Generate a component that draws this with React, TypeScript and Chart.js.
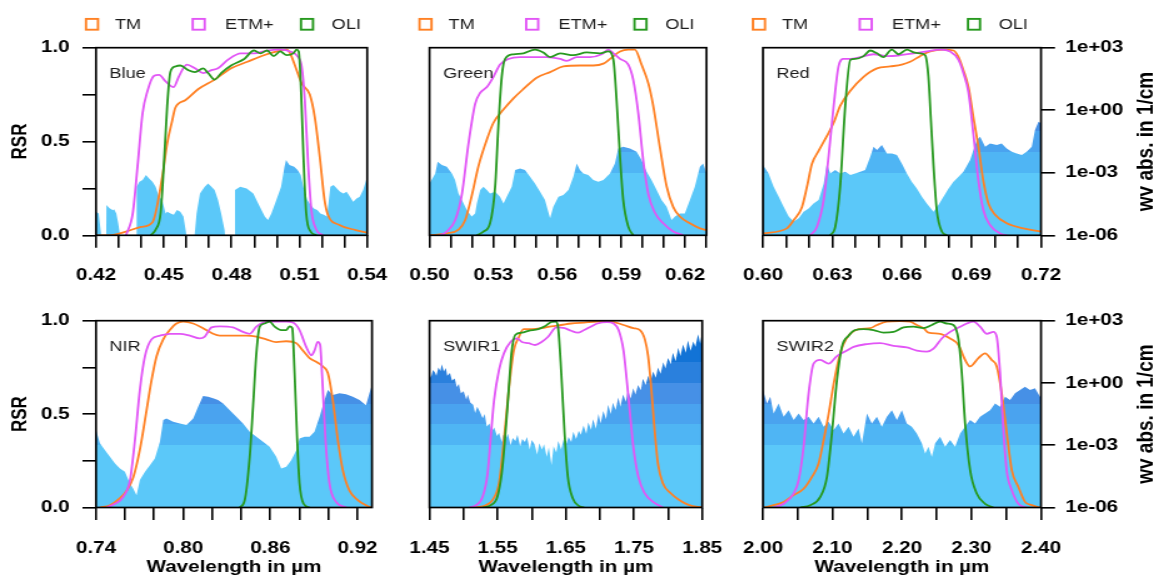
import React, { useEffect, useRef } from 'react';
import { Chart, registerables } from 'chart.js';

Chart.register(...registerables);

type P = [number, number];

// ---------------- Series labels / colours ----------------
const SERIES_LABELS = ['TM', 'ETM+', 'OLI'];
const SERIES_COLORS = ['#FF8124', '#E256F6', '#27991F'];
const X_TITLE = 'Wavelength in µm';
const Y_TITLE = 'RSR';
const Y2_TITLE = 'wv abs. in 1/cm';

// RSR axis ticks
const RSR_TICKS = [0, 0.25, 0.5, 0.75, 1];
const RSR_LABELS = ['0.0', '', '0.5', '', '1.0'];
// water-vapour axis (log10 of absorption, 1/cm)
const WV_TICKS = [-6, -3, 0, 3];
const WV_LABELS = ['1e-06', '1e-03', '1e+00', '1e+03'];
// decade bands of the absorption fill
const BAND_EDGES = [-3, -2, -1, 0, 1];
const BAND_COLORS = ['#5BC8F9', '#4FB5F4', '#4AA3EF', '#4690E6', '#2A80DD', '#1273D6'];

// ---------------- Blue ----------------
const BLUE_XTICKS = [0.42, 0.43, 0.44, 0.45, 0.46, 0.47, 0.48, 0.49, 0.5, 0.51, 0.52, 0.53, 0.54];
const BLUE_XLABELS = ['0.42', '', '', '0.45', '', '', '0.48', '', '', '0.51', '', '', '0.54'];
const BLUE_TM: P[] = [[0.42, 0], [0.426, 0], [0.4333, 0.02], [0.44, 0.045], [0.445, 0.07], [0.4493, 0.31], [0.4515, 0.49], [0.4537, 0.61], [0.4551, 0.68], [0.4595, 0.72], [0.4653, 0.78], [0.4725, 0.83], [0.4798, 0.89], [0.487, 0.925], [0.4943, 0.96], [0.5001, 0.98], [0.5044, 0.99], [0.5059, 0.97], [0.5088, 0.88], [0.511, 0.81], [0.5146, 0.75], [0.5168, 0.63], [0.519, 0.42], [0.5211, 0.19], [0.5226, 0.11], [0.5277, 0.055], [0.5349, 0.028], [0.54, 0.014]];
const BLUE_ETM: P[] = [[0.4333, 0], [0.4363, 0.12], [0.4384, 0.37], [0.4406, 0.65], [0.4428, 0.77], [0.4457, 0.85], [0.4479, 0.855], [0.4508, 0.82], [0.4544, 0.79], [0.4566, 0.845], [0.4602, 0.91], [0.4638, 0.89], [0.4674, 0.865], [0.4711, 0.88], [0.474, 0.89], [0.4783, 0.935], [0.4841, 0.97], [0.4899, 0.97], [0.4957, 0.985], [0.5015, 0.99], [0.5059, 0.98], [0.5095, 0.95], [0.511, 0.9], [0.5124, 0.72], [0.5139, 0.37], [0.5153, 0.135], [0.5175, 0.03], [0.5204, 0]];
const BLUE_OLI: P[] = [[0.4442, 0], [0.4464, 0.03], [0.4486, 0.12], [0.45, 0.37], [0.4515, 0.69], [0.4529, 0.87], [0.4551, 0.9], [0.4573, 0.905], [0.4609, 0.88], [0.4638, 0.87], [0.4674, 0.89], [0.4696, 0.865], [0.4725, 0.83], [0.4754, 0.865], [0.4798, 0.905], [0.4856, 0.94], [0.4899, 0.985], [0.4928, 0.97], [0.4957, 0.985], [0.4986, 0.955], [0.5015, 0.98], [0.5044, 0.96], [0.5073, 0.97], [0.5088, 0.99], [0.5097, 0.98], [0.5108, 0.75], [0.5118, 0.42], [0.513, 0.12], [0.515, 0.02], [0.5175, 0]];
const BLUE_WV: P[] = [[0.42, -4.87], [0.4212, -4.95], [0.4222, -5.9], [0.4224, -6.5], [0.4245, -6.5], [0.4246, -4.55], [0.426, -4.7], [0.4275, -4.8], [0.428, -4.75], [0.429, -4.95], [0.4298, -5.4], [0.4305, -5.9], [0.4308, -6.5], [0.4379, -6.5], [0.438, -3.67], [0.4392, -3.43], [0.4406, -3.35], [0.4421, -3.11], [0.4435, -3.27], [0.445, -3.43], [0.4464, -3.67], [0.4479, -4.15], [0.4493, -4.31], [0.4508, -4.95], [0.4515, -4.87], [0.453, -4.95], [0.4544, -5.02], [0.4558, -4.79], [0.4573, -4.87], [0.4587, -5.1], [0.4599, -5.9], [0.4602, -6.5], [0.4632, -6.5], [0.4645, -4.95], [0.466, -3.99], [0.4681, -3.67], [0.4696, -3.51], [0.4711, -3.67], [0.4725, -3.83], [0.474, -4.31], [0.4754, -4.95], [0.4769, -5.74], [0.4775, -6.5], [0.4814, -6.5], [0.4815, -3.83], [0.4838, -3.67], [0.4867, -3.75], [0.4896, -3.99], [0.4925, -4.63], [0.4947, -5.1], [0.4961, -5.27], [0.4976, -4.95], [0.4998, -4.31], [0.5019, -3.67], [0.5034, -2.71], [0.5041, -2.39], [0.5056, -2.63], [0.5077, -2.71], [0.5092, -2.87], [0.5106, -3.11], [0.5121, -3.83], [0.5135, -4.31], [0.515, -4.55], [0.5164, -4.71], [0.5179, -4.79], [0.5193, -4.95], [0.5208, -5.02], [0.5222, -5.1], [0.5237, -3.67], [0.5251, -3.59], [0.5266, -3.75], [0.528, -3.91], [0.5295, -3.99], [0.5309, -3.91], [0.5324, -4.15], [0.5338, -4.39], [0.5353, -4.23], [0.5367, -4.15], [0.5382, -3.83], [0.54, -3.19]];

// ---------------- Green ----------------
const GREEN_XTICKS = [0.5, 0.51, 0.52, 0.53, 0.54, 0.55, 0.56, 0.57, 0.58, 0.59, 0.6, 0.61, 0.62, 0.63];
const GREEN_XLABELS = ['0.50', '', '', '0.53', '', '', '0.56', '', '', '0.59', '', '', '0.62', ''];
const GREEN_TM: P[] = [[0.5, 0], [0.5081, 0.01], [0.5136, 0.03], [0.5167, 0.08], [0.5198, 0.21], [0.523, 0.37], [0.5269, 0.51], [0.53, 0.6], [0.5347, 0.67], [0.5394, 0.73], [0.5441, 0.78], [0.5503, 0.84], [0.5566, 0.87], [0.5628, 0.9], [0.5706, 0.905], [0.5769, 0.905], [0.5816, 0.915], [0.5847, 0.94], [0.5894, 0.98], [0.5933, 0.99], [0.5964, 0.99], [0.5995, 0.91], [0.6027, 0.81], [0.605, 0.69], [0.6081, 0.47], [0.6113, 0.26], [0.6144, 0.15], [0.6175, 0.1], [0.6222, 0.064], [0.6269, 0.037], [0.63, 0.028]];
const GREEN_ETM: P[] = [[0.505, 0], [0.5081, 0.02], [0.512, 0.08], [0.5152, 0.22], [0.5183, 0.49], [0.5214, 0.7], [0.5238, 0.76], [0.5269, 0.79], [0.53, 0.845], [0.5331, 0.91], [0.537, 0.94], [0.5425, 0.95], [0.5488, 0.95], [0.555, 0.95], [0.5613, 0.94], [0.5644, 0.93], [0.5691, 0.95], [0.5753, 0.95], [0.5808, 0.965], [0.5839, 0.99], [0.5863, 0.97], [0.5894, 0.94], [0.5933, 0.91], [0.5956, 0.83], [0.598, 0.65], [0.6003, 0.4], [0.6027, 0.22], [0.6058, 0.12], [0.6097, 0.064], [0.6144, 0.02], [0.6191, 0]];
const GREEN_OLI: P[] = [[0.5222, 0], [0.5253, 0.02], [0.5284, 0.064], [0.5308, 0.26], [0.5323, 0.58], [0.5339, 0.845], [0.5355, 0.94], [0.5394, 0.965], [0.5441, 0.97], [0.5495, 0.99], [0.5534, 0.975], [0.5566, 0.95], [0.5613, 0.97], [0.5675, 0.96], [0.5738, 0.975], [0.58, 0.97], [0.5839, 0.98], [0.5863, 0.935], [0.5878, 0.72], [0.5894, 0.42], [0.5909, 0.19], [0.5933, 0.046], [0.5956, 0]];
const GREEN_WV: P[] = [[0.5, -3.51], [0.5027, -3.03], [0.5038, -2.47], [0.5058, -2.63], [0.5081, -2.71], [0.5105, -3.03], [0.512, -3.35], [0.5136, -3.99], [0.5152, -4.31], [0.5175, -4.79], [0.5198, -5.1], [0.5214, -4.95], [0.5222, -4.47], [0.5238, -3.83], [0.5253, -3.67], [0.5269, -3.83], [0.5284, -3.99], [0.5308, -3.91], [0.5331, -4.15], [0.5347, -4.47], [0.537, -3.99], [0.5386, -3.67], [0.5402, -2.87], [0.5425, -2.79], [0.5448, -2.87], [0.5472, -3.19], [0.5495, -3.51], [0.5519, -3.91], [0.5542, -4.31], [0.5566, -5.18], [0.5581, -4.63], [0.5605, -4.15], [0.5628, -4.07], [0.5652, -3.83], [0.5675, -3.19], [0.5691, -2.55], [0.5706, -2.87], [0.5722, -3.03], [0.5745, -3.11], [0.5769, -3.35], [0.5792, -3.43], [0.5816, -3.35], [0.5847, -3.03], [0.587, -2.55], [0.5886, -1.83], [0.5909, -1.75], [0.5941, -1.83], [0.5972, -1.99], [0.5995, -2.39], [0.6019, -2.95], [0.6042, -3.35], [0.6066, -3.83], [0.6089, -4.31], [0.6113, -4.63], [0.6136, -5.26], [0.6152, -5.1], [0.6175, -4.95], [0.6198, -4.95], [0.6222, -4.31], [0.6245, -3.67], [0.6269, -2.71], [0.6284, -2.55], [0.63, -3.03]];

// ---------------- Red ----------------
const RED_XTICKS = [0.6, 0.61, 0.62, 0.63, 0.64, 0.65, 0.66, 0.67, 0.68, 0.69, 0.7, 0.71, 0.72];
const RED_XLABELS = ['0.60', '', '', '0.63', '', '', '0.66', '', '', '0.69', '', '', '0.72'];
const RED_TM: P[] = [[0.6, 0.01], [0.6103, 0.037], [0.6132, 0.08], [0.6168, 0.15], [0.619, 0.26], [0.6211, 0.38], [0.624, 0.45], [0.6276, 0.53], [0.6305, 0.6], [0.6333, 0.69], [0.6377, 0.77], [0.6434, 0.845], [0.6492, 0.89], [0.6549, 0.9], [0.6599, 0.91], [0.6635, 0.925], [0.6678, 0.955], [0.6721, 0.98], [0.6779, 0.99], [0.6822, 0.985], [0.6844, 0.95], [0.6865, 0.88], [0.6887, 0.79], [0.6908, 0.63], [0.693, 0.47], [0.6951, 0.29], [0.6973, 0.17], [0.7002, 0.11], [0.7052, 0.064], [0.7124, 0.037], [0.72, 0.02]];
const RED_ETM: P[] = [[0.6204, 0], [0.6233, 0.046], [0.6262, 0.19], [0.6283, 0.42], [0.6305, 0.69], [0.6326, 0.9], [0.6348, 0.94], [0.6377, 0.94], [0.642, 0.95], [0.6477, 0.965], [0.6535, 0.955], [0.6592, 0.96], [0.665, 0.97], [0.6707, 0.98], [0.6765, 0.99], [0.6808, 0.98], [0.6844, 0.935], [0.6865, 0.865], [0.6887, 0.76], [0.6908, 0.54], [0.693, 0.29], [0.6951, 0.135], [0.698, 0.055], [0.7023, 0.01], [0.7052, 0]];
const RED_OLI: P[] = [[0.629, 0], [0.6312, 0.046], [0.6333, 0.26], [0.6355, 0.69], [0.6377, 0.935], [0.6398, 0.94], [0.6434, 0.955], [0.6463, 0.985], [0.6492, 0.97], [0.652, 0.95], [0.6556, 0.99], [0.6585, 0.965], [0.6621, 0.99], [0.665, 0.975], [0.6678, 0.97], [0.67, 0.96], [0.6714, 0.845], [0.6724, 0.63], [0.6736, 0.37], [0.675, 0.135], [0.6772, 0.02], [0.6793, 0]];
const RED_WV: P[] = [[0.6, -2.63], [0.6024, -3.03], [0.6046, -3.67], [0.6068, -4.15], [0.6089, -4.63], [0.6111, -5.1], [0.6132, -5.34], [0.6154, -5.18], [0.6175, -4.87], [0.6197, -4.71], [0.6218, -4.47], [0.624, -4.31], [0.6262, -3.51], [0.6276, -2.55], [0.629, -3.03], [0.6312, -2.87], [0.6333, -3.03], [0.6355, -2.95], [0.6377, -3.11], [0.6398, -3.03], [0.642, -2.95], [0.6441, -2.87], [0.6463, -2.23], [0.6477, -1.75], [0.6492, -1.91], [0.6513, -1.67], [0.6535, -2.07], [0.6556, -2.07], [0.6578, -2.15], [0.6599, -2.55], [0.6621, -3.03], [0.6642, -3.43], [0.6664, -3.75], [0.6686, -4.15], [0.6707, -4.47], [0.6736, -4.87], [0.6757, -4.55], [0.6779, -4.15], [0.6801, -3.75], [0.6822, -3.43], [0.6844, -3.19], [0.6865, -2.95], [0.6894, -2.39], [0.6923, -1.43], [0.6937, -1.27], [0.6959, -1.75], [0.698, -1.59], [0.7009, -1.67], [0.703, -1.59], [0.7052, -1.83], [0.7074, -1.99], [0.7095, -2.07], [0.7117, -2.15], [0.7138, -1.99], [0.716, -1.75], [0.7174, -0.95], [0.7189, -0.55], [0.72, -0.63]];

// ---------------- NIR ----------------
const NIR_XTICKS = [0.74, 0.76, 0.78, 0.8, 0.82, 0.84, 0.86, 0.88, 0.9, 0.92];
const NIR_XLABELS = ['0.74', '', '', '0.80', '', '', '0.86', '', '', '0.92'];
const NIR_TM: P[] = [[0.7427, 0], [0.7496, 0.0125], [0.7565, 0.05], [0.7611, 0.09], [0.7656, 0.16], [0.7702, 0.31], [0.7748, 0.52], [0.7782, 0.68], [0.7817, 0.81], [0.7863, 0.9], [0.7908, 0.95], [0.7954, 0.985], [0.8, 0.995], [0.8069, 0.985], [0.8137, 0.96], [0.8206, 0.93], [0.8252, 0.92], [0.8343, 0.92], [0.8435, 0.92], [0.8504, 0.915], [0.8572, 0.9], [0.8641, 0.885], [0.871, 0.89], [0.8779, 0.88], [0.8824, 0.84], [0.887, 0.8], [0.8916, 0.78], [0.8962, 0.755], [0.8996, 0.72], [0.903, 0.575], [0.9065, 0.36], [0.9099, 0.2], [0.9145, 0.09], [0.9202, 0.04], [0.9259, 0.0125], [0.9294, 0]];
const NIR_ETM: P[] = [[0.7473, 0], [0.753, 0.02], [0.7588, 0.057], [0.7634, 0.146], [0.7668, 0.36], [0.7702, 0.63], [0.7737, 0.81], [0.7782, 0.9], [0.784, 0.92], [0.7908, 0.93], [0.7977, 0.93], [0.8046, 0.92], [0.8114, 0.905], [0.8149, 0.915], [0.8195, 0.964], [0.8252, 0.97], [0.8343, 0.964], [0.8412, 0.94], [0.8458, 0.93], [0.8504, 0.968], [0.855, 0.99], [0.8618, 0.995], [0.871, 0.995], [0.8756, 0.99], [0.8801, 0.95], [0.8847, 0.86], [0.8882, 0.815], [0.8904, 0.84], [0.8927, 0.887], [0.8943, 0.87], [0.8957, 0.7], [0.898, 0.36], [0.9007, 0.13], [0.9053, 0.03], [0.9122, 0]];
const NIR_OLI: P[] = [[0.8389, 0], [0.8424, 0.04], [0.8458, 0.27], [0.8481, 0.54], [0.8504, 0.825], [0.8527, 0.968], [0.8561, 0.985], [0.8595, 0.995], [0.863, 0.968], [0.8675, 0.95], [0.871, 0.95], [0.8733, 0.97], [0.8751, 0.96], [0.8767, 0.72], [0.8785, 0.36], [0.8801, 0.13], [0.8829, 0.02], [0.887, 0]];
const NIR_WV: P[] = [[0.74, -2.27], [0.7427, -2.91], [0.7462, -3.24], [0.7496, -3.56], [0.7531, -3.88], [0.7565, -4.12], [0.7599, -4.28], [0.7634, -4.84], [0.7656, -5.08], [0.7679, -5.41], [0.7702, -4.68], [0.7737, -4.28], [0.7771, -3.96], [0.7805, -3.64], [0.784, -2.83], [0.7863, -1.79], [0.7885, -1.71], [0.7931, -1.87], [0.7977, -1.95], [0.8023, -2.03], [0.8069, -1.71], [0.8103, -1.15], [0.8137, -0.63], [0.8172, -0.66], [0.8206, -0.74], [0.824, -0.82], [0.8275, -0.99], [0.8321, -1.31], [0.8366, -1.63], [0.8412, -1.95], [0.8458, -2.35], [0.8504, -2.59], [0.855, -2.83], [0.8595, -3.07], [0.8641, -3.56], [0.8675, -4.12], [0.871, -4.04], [0.8744, -3.72], [0.8779, -3.24], [0.8801, -2.67], [0.8836, -2.59], [0.887, -2.59], [0.8904, -2.35], [0.8939, -1.63], [0.8973, -0.82], [0.8996, -0.34], [0.903, -0.58], [0.9076, -0.5], [0.9122, -0.54], [0.9168, -0.66], [0.9214, -0.82], [0.9259, -1.07], [0.9282, -0.5], [0.93, -0.1]];

// ---------------- SWIR1 ----------------
const SWIR1_XTICKS = [1.45, 1.5, 1.55, 1.6, 1.65, 1.7, 1.75, 1.8, 1.85];
const SWIR1_XLABELS = ['1.45', '', '1.55', '', '1.65', '', '1.75', '', '1.85'];
const SWIR1_TM: P[] = [[1.5183, 0], [1.5327, 0.0125], [1.5423, 0.04], [1.5519, 0.13], [1.5591, 0.36], [1.5663, 0.63], [1.5736, 0.84], [1.5808, 0.91], [1.588, 0.955], [1.6, 0.955], [1.6144, 0.96], [1.6288, 0.97], [1.6433, 0.977], [1.6577, 0.985], [1.6769, 0.99], [1.6962, 0.995], [1.7154, 0.995], [1.7346, 0.977], [1.749, 0.96], [1.7587, 0.95], [1.7659, 0.9], [1.7707, 0.81], [1.7755, 0.63], [1.7803, 0.41], [1.7851, 0.235], [1.7923, 0.13], [1.8043, 0.075], [1.8163, 0.04], [1.8308, 0.0125], [1.85, 0]];
const SWIR1_ETM: P[] = [[1.5087, 0], [1.5183, 0.0125], [1.5279, 0.057], [1.5351, 0.18], [1.5399, 0.38], [1.5447, 0.575], [1.5519, 0.735], [1.5591, 0.825], [1.5688, 0.886], [1.5784, 0.905], [1.5856, 0.886], [1.5952, 0.88], [1.6048, 0.87], [1.6144, 0.886], [1.624, 0.914], [1.636, 0.964], [1.6481, 0.96], [1.6577, 0.946], [1.6673, 0.936], [1.6769, 0.95], [1.6865, 0.968], [1.6962, 0.985], [1.7106, 0.993], [1.7202, 0.985], [1.7274, 0.95], [1.7346, 0.84], [1.7394, 0.68], [1.7442, 0.5], [1.749, 0.325], [1.7563, 0.165], [1.7659, 0.075], [1.7779, 0.03], [1.7923, 0]];
const SWIR1_OLI: P[] = [[1.5279, 0], [1.5399, 0.0125], [1.5495, 0.057], [1.5558, 0.18], [1.5606, 0.36], [1.5654, 0.59], [1.5702, 0.825], [1.576, 0.925], [1.5856, 0.936], [1.5952, 0.946], [1.6096, 0.955], [1.6192, 0.97], [1.6288, 0.993], [1.6351, 0.995], [1.6385, 0.968], [1.6433, 0.72], [1.6481, 0.4], [1.6529, 0.165], [1.6601, 0.05], [1.6697, 0.007], [1.6769, 0]];
const SWIR1_WV: P[] = [[1.45, 0.46], [1.452, 0.25], [1.455, 0.62], [1.458, 0.5], [1.46, 0.35], [1.463, 0.75], [1.466, 0.58], [1.468, 0.9], [1.471, 0.55], [1.474, 0.72], [1.476, 0.35], [1.48, 0.48], [1.483, 0.12], [1.487, 0.22], [1.49, -0.2], [1.493, -0.05], [1.496, -0.5], [1.5, -0.4], [1.504, -0.8], [1.506, -0.55], [1.51, -0.95], [1.514, -1.05], [1.517, -1.45], [1.52, -1.15], [1.524, -1.4], [1.528, -1.7], [1.531, -1.5], [1.534, -2.1], [1.538, -1.95], [1.541, -2.35], [1.545, -2.15], [1.549, -2.55], [1.552, -2.4], [1.556, -2.85], [1.558, -2.5], [1.562, -2.7], [1.565, -2.45], [1.569, -3.0], [1.572, -2.65], [1.576, -2.8], [1.579, -2.5], [1.583, -3.05], [1.586, -2.7], [1.59, -2.85], [1.593, -2.6], [1.597, -3.2], [1.6, -2.75], [1.604, -2.95], [1.608, -3.45], [1.611, -2.9], [1.615, -3.2], [1.618, -2.95], [1.622, -3.55], [1.625, -3.1], [1.629, -3.95], [1.632, -3.05], [1.636, -3.35], [1.639, -2.8], [1.643, -3.2], [1.647, -2.7], [1.65, -3.0], [1.654, -2.6], [1.658, -2.85], [1.661, -2.35], [1.665, -2.7], [1.669, -2.3], [1.672, -2.5], [1.676, -2.05], [1.68, -2.45], [1.683, -1.9], [1.687, -2.25], [1.69, -1.75], [1.694, -2.2], [1.698, -1.5], [1.701, -1.95], [1.705, -1.35], [1.709, -1.75], [1.712, -1.05], [1.716, -1.5], [1.719, -0.95], [1.723, -1.3], [1.727, -0.7], [1.73, -1.15], [1.734, -0.55], [1.738, -0.9], [1.741, -0.35], [1.745, -0.75], [1.749, -0.25], [1.752, -0.55], [1.756, -0.1], [1.76, -0.35], [1.763, 0.2], [1.767, -0.1], [1.771, 0.35], [1.774, 0.05], [1.778, 0.55], [1.782, 0.25], [1.785, 0.75], [1.789, 0.45], [1.793, 1.0], [1.796, 0.7], [1.8, 1.2], [1.804, 0.9], [1.807, 1.45], [1.811, 1.05], [1.815, 1.7], [1.818, 1.3], [1.822, 1.85], [1.826, 1.45], [1.829, 2.05], [1.833, 1.55], [1.837, 2.0], [1.84, 1.75], [1.844, 2.35], [1.847, 1.9], [1.849, 2.3], [1.85, 1.4]];

// ---------------- SWIR2 ----------------
const SWIR2_XTICKS = [2.0, 2.05, 2.1, 2.15, 2.2, 2.25, 2.3, 2.35, 2.4];
const SWIR2_XLABELS = ['2.00', '', '2.10', '', '2.20', '', '2.30', '', '2.40'];
const SWIR2_TM: P[] = [[2.001, 0], [2.0153, 0.0125], [2.0297, 0.03], [2.0441, 0.066], [2.0584, 0.1], [2.0704, 0.164], [2.08, 0.236], [2.0872, 0.36], [2.0944, 0.5], [2.1016, 0.66], [2.1087, 0.79], [2.1159, 0.875], [2.1255, 0.93], [2.1375, 0.955], [2.1543, 0.96], [2.1638, 0.977], [2.1782, 0.995], [2.1974, 0.998], [2.2117, 0.995], [2.2213, 0.977], [2.2309, 0.96], [2.2381, 0.936], [2.2548, 0.93], [2.2692, 0.905], [2.2812, 0.87], [2.2908, 0.79], [2.298, 0.755], [2.3099, 0.8], [2.3195, 0.825], [2.3291, 0.79], [2.3363, 0.755], [2.3435, 0.61], [2.3507, 0.4], [2.3579, 0.2], [2.3674, 0.11], [2.377, 0.03], [2.3866, 0.0125], [2.3986, 0]];
const SWIR2_ETM: P[] = [[2.0153, 0], [2.0297, 0.02], [2.0441, 0.075], [2.0513, 0.146], [2.0584, 0.325], [2.0656, 0.61], [2.0728, 0.77], [2.0824, 0.79], [2.0944, 0.77], [2.1063, 0.81], [2.1207, 0.84], [2.1303, 0.86], [2.1495, 0.875], [2.1686, 0.88], [2.1878, 0.865], [2.2069, 0.857], [2.2213, 0.84], [2.2357, 0.834], [2.2453, 0.85], [2.2572, 0.905], [2.2692, 0.94], [2.2836, 0.968], [2.2932, 0.985], [2.3028, 0.995], [2.3123, 0.968], [2.3219, 0.93], [2.3315, 0.94], [2.3363, 0.914], [2.3411, 0.72], [2.3459, 0.41], [2.3507, 0.196], [2.3579, 0.093], [2.3674, 0.02], [2.3794, 0]];
const SWIR2_OLI: P[] = [[2.0537, 0], [2.068, 0.0125], [2.0824, 0.057], [2.092, 0.164], [2.0992, 0.4], [2.1063, 0.68], [2.1135, 0.86], [2.1231, 0.92], [2.1327, 0.95], [2.1447, 0.955], [2.159, 0.95], [2.1734, 0.936], [2.1878, 0.94], [2.2022, 0.964], [2.2165, 0.968], [2.2309, 0.96], [2.2429, 0.977], [2.2548, 0.995], [2.2644, 0.985], [2.274, 0.977], [2.2812, 0.9], [2.286, 0.72], [2.2908, 0.45], [2.298, 0.2], [2.3075, 0.075], [2.3195, 0.02], [2.3315, 0]];
const SWIR2_WV: P[] = [[2.0, -0.34], [2.0057, -0.99], [2.0105, -0.66], [2.0153, -1.47], [2.0225, -0.99], [2.0297, -1.63], [2.0369, -1.31], [2.0441, -1.79], [2.0513, -1.47], [2.0584, -1.79], [2.0656, -1.63], [2.0728, -1.95], [2.08, -1.63], [2.0872, -2.11], [2.0944, -1.87], [2.1016, -2.27], [2.1087, -1.95], [2.1159, -2.43], [2.1231, -2.11], [2.1303, -2.59], [2.1375, -2.19], [2.1423, -2.91], [2.1495, -1.47], [2.1566, -1.95], [2.1638, -1.63], [2.171, -2.11], [2.1782, -1.63], [2.1854, -1.31], [2.1926, -1.79], [2.1998, -1.31], [2.2069, -1.95], [2.2141, -2.11], [2.2213, -2.43], [2.2285, -2.91], [2.2333, -3.4], [2.2381, -3.07], [2.2429, -3.56], [2.2477, -2.91], [2.2548, -2.59], [2.262, -3.07], [2.2692, -2.75], [2.2764, -3.07], [2.2836, -2.43], [2.2908, -2.11], [2.298, -1.79], [2.3051, -1.95], [2.3123, -1.63], [2.3195, -1.47], [2.3267, -1.31], [2.3339, -0.99], [2.3411, -1.15], [2.3483, -0.66], [2.3555, -0.82], [2.3626, -0.5], [2.3698, -0.34], [2.377, -0.18], [2.3842, -0.34], [2.3914, -0.26], [2.3986, -0.66], [2.4, -0.66]];

// ---------------- Layout (page px) ----------------
const FONT = "'Liberation Sans', Arial, Helvetica, sans-serif";
const SX = 1.25; // horizontal stretch of the figure
const COLS = [
  { plotL: 96, plotR: 372, cssL: 0, cssR: 410 },
  { plotL: 429.5, plotR: 706.5, cssL: 380, cssR: 745 },
  { plotL: 763, plotR: 1041, cssL: 713, cssR: 1154 },
];
const ROWS = [
  { plotT: 47.7, plotB: 235.3, cssT: 0, cssB: 290 },
  { plotT: 320.7, plotB: 507.5, cssT: 290, cssB: 583 },
];

type Panel = {
  name: string; row: number; col: number; xMin: number; xMax: number;
  xTicks: number[]; xLabels: string[]; tm: P[]; etm: P[]; oli: P[]; wv: P[];
};

const PANELS: Panel[] = [
  { name: 'Blue', row: 0, col: 0, xMin: 0.42, xMax: 0.54, xTicks: BLUE_XTICKS, xLabels: BLUE_XLABELS, tm: BLUE_TM, etm: BLUE_ETM, oli: BLUE_OLI, wv: BLUE_WV },
  { name: 'Green', row: 0, col: 1, xMin: 0.5, xMax: 0.63, xTicks: GREEN_XTICKS, xLabels: GREEN_XLABELS, tm: GREEN_TM, etm: GREEN_ETM, oli: GREEN_OLI, wv: GREEN_WV },
  { name: 'Red', row: 0, col: 2, xMin: 0.6, xMax: 0.72, xTicks: RED_XTICKS, xLabels: RED_XLABELS, tm: RED_TM, etm: RED_ETM, oli: RED_OLI, wv: RED_WV },
  { name: 'NIR', row: 1, col: 0, xMin: 0.74, xMax: 0.93, xTicks: NIR_XTICKS, xLabels: NIR_XLABELS, tm: NIR_TM, etm: NIR_ETM, oli: NIR_OLI, wv: NIR_WV },
  { name: 'SWIR1', row: 1, col: 1, xMin: 1.45, xMax: 1.85, xTicks: SWIR1_XTICKS, xLabels: SWIR1_XLABELS, tm: SWIR1_TM, etm: SWIR1_ETM, oli: SWIR1_OLI, wv: SWIR1_WV },
  { name: 'SWIR2', row: 1, col: 2, xMin: 2.0, xMax: 2.4, xTicks: SWIR2_XTICKS, xLabels: SWIR2_XLABELS, tm: SWIR2_TM, etm: SWIR2_ETM, oli: SWIR2_OLI, wv: SWIR2_WV },
];

function geom(p: Panel) {
  const col = COLS[p.col];
  const row = ROWS[p.row];
  const cssW = col.cssR - col.cssL;
  const cw = Math.round(cssW / SX);
  const k = cssW / cw;
  const ch = row.cssB - row.cssT;
  return { col, row, cssW, cw, k, ch };
}

function wvFill(context: any) {
  const chart = context.chart;
  const s = chart.scales && chart.scales.y2;
  if (!chart.chartArea || !s) return BAND_COLORS[0];
  const yb = s.getPixelForValue(s.min);
  const yt = s.getPixelForValue(s.max);
  const g = chart.ctx.createLinearGradient(0, yb, 0, yt);
  g.addColorStop(0, BAND_COLORS[0]);
  BAND_EDGES.forEach((e, i) => {
    const f = (e - s.min) / (s.max - s.min);
    g.addColorStop(f, BAND_COLORS[i]);
    g.addColorStop(f, BAND_COLORS[i + 1]);
  });
  g.addColorStop(1, BAND_COLORS[BAND_COLORS.length - 1]);
  return g;
}

const decorPlugin = {
  id: 'decor',
  afterDraw(chart: any, _args: any, o: any) {
    const { ctx, chartArea: a } = chart;
    const cx = (css: number) => (css - o.cssL) / o.k;
    ctx.save();
    // frame
    ctx.strokeStyle = '#000';
    ctx.lineWidth = 1.7;
    ctx.strokeRect(a.left, a.top, a.right - a.left, a.bottom - a.top);
    // band name
    ctx.fillStyle = '#1c1c1c';
    ctx.font = `14.5px ${FONT}`;
    ctx.textAlign = 'left';
    ctx.textBaseline = 'alphabetic';
    ctx.fillText(o.name, cx(o.plotL + 13.5), a.top + 30.5);
    // legend
    if (o.legend) {
      const boxOff = [-11, 95.7, 204];
      const textOff = [19, 129, 235.7];
      const yc = 24.3;
      SERIES_LABELS.forEach((lab, i) => {
        const bx = cx(o.plotL + boxOff[i]);
        const bw = 14 / o.k;
        ctx.strokeStyle = SERIES_COLORS[i];
        ctx.lineWidth = 1.9;
        ctx.strokeRect(bx + 0.8, yc - 5.4, bw - 1.6, 10.8);
        ctx.fillStyle = '#1c1c1c';
        ctx.font = `14.5px ${FONT}`;
        ctx.textAlign = 'left';
        ctx.textBaseline = 'middle';
        ctx.fillText(lab, cx(o.plotL + textOff[i]), yc + 0.5);
      });
    }
    ctx.fillStyle = '#000';
    if (o.xTitle) {
      ctx.font = `bold 16.5px ${FONT}`;
      ctx.textAlign = 'center';
      ctx.textBaseline = 'middle';
      ctx.fillText(X_TITLE, (a.left + a.right) / 2, 567 - o.cssT);
    }
    if (o.yTitle) {
      ctx.save();
      ctx.translate(cx(21), (a.top + a.bottom) / 2);
      ctx.rotate(-Math.PI / 2);
      ctx.font = `bold 17px ${FONT}`;
      ctx.textAlign = 'center';
      ctx.textBaseline = 'middle';
      ctx.fillText(Y_TITLE, 0, 0);
      ctx.restore();
    }
    if (o.y2Title) {
      ctx.save();
      ctx.translate(cx(1146), (a.top + a.bottom) / 2);
      ctx.rotate(-Math.PI / 2);
      ctx.font = `bold 19px ${FONT}`;
      ctx.textAlign = 'center';
      ctx.textBaseline = 'middle';
      ctx.fillText(Y2_TITLE, 0, 0);
      ctx.restore();
    }
    ctx.restore();
  },
};

function lineDs(label: string, data: P[], color: string) {
  return {
    label,
    data: data.map(([x, y]) => ({ x, y })),
    borderColor: color,
    backgroundColor: color,
    borderWidth: 1.8,
    pointRadius: 0,
    fill: false,
    cubicInterpolationMode: 'monotone',
    xAxisID: 'x',
    yAxisID: 'y',
  };
}

function buildConfig(p: Panel): any {
  const { col, row, k } = geom(p);
  const tickFont = { family: FONT, size: 16.5, weight: 'bold' };
  return {
    type: 'line',
    data: {
      datasets: [
        lineDs(SERIES_LABELS[2], p.oli, SERIES_COLORS[2]),
        lineDs(SERIES_LABELS[1], p.etm, SERIES_COLORS[1]),
        lineDs(SERIES_LABELS[0], p.tm, SERIES_COLORS[0]),
        {
          label: 'wv',
          data: p.wv.map(([x, y]) => ({ x, y })),
          borderWidth: 0,
          borderColor: 'rgba(0,0,0,0)',
          backgroundColor: wvFill,
          pointRadius: 0,
          fill: 'start',
          tension: 0,
          xAxisID: 'x',
          yAxisID: 'y2',
        },
      ],
    },
    options: {
      responsive: false,
      animation: false,
      events: [],
      layout: {
        padding: {
          top: row.plotT - row.cssT,
          bottom: 0,
          left: p.col === 0 ? 0 : (col.plotL - col.cssL) / k,
          right: p.col === 2 ? 0 : (col.cssR - col.plotR) / k,
        },
      },
      plugins: {
        legend: { display: false },
        tooltip: { enabled: false },
        decor: {
          name: p.name, cssL: col.cssL, cssT: row.cssT, k, plotL: col.plotL,
          legend: p.row === 0, xTitle: p.row === 1, yTitle: p.col === 0, y2Title: p.col === 2,
        },
      },
      scales: {
        x: {
          type: 'linear',
          min: p.xMin,
          max: p.xMax,
          afterBuildTicks: (s: any) => { s.ticks = p.xTicks.map((v) => ({ value: v })); },
          afterFit: (s: any) => { s.height = row.cssB - row.plotB; },
          ticks: {
            autoSkip: false, maxRotation: 0, minRotation: 0, padding: 18.2, color: '#000', font: tickFont,
            callback: (_v: number, i: number) => p.xLabels[i],
          },
          grid: { drawOnChartArea: false, drawTicks: true, tickLength: 12.5, color: '#000', lineWidth: 1.6 },
          border: { display: false },
        },
        y: {
          type: 'linear',
          position: 'left',
          min: 0,
          max: 1,
          display: p.col === 0,
          afterBuildTicks: (s: any) => { s.ticks = RSR_TICKS.map((v) => ({ value: v })); },
          afterFit: (s: any) => { if (p.col === 0) s.width = (col.plotL - col.cssL) / k; },
          ticks: { padding: 10.2, color: '#000', font: tickFont, callback: (_v: number, i: number) => RSR_LABELS[i] },
          grid: { drawOnChartArea: false, drawTicks: true, tickLength: 10.8, color: '#000', lineWidth: 1.6 },
          border: { display: false },
        },
        y2: {
          type: 'linear',
          position: 'right',
          min: -6,
          max: 3,
          display: p.col === 2,
          afterBuildTicks: (s: any) => { s.ticks = WV_TICKS.map((v) => ({ value: v })); },
          afterFit: (s: any) => { if (p.col === 2) s.width = (col.cssR - col.plotR) / k; },
          ticks: { padding: 8.3, color: '#000', font: tickFont, callback: (_v: number, i: number) => WV_LABELS[i] },
          grid: { drawOnChartArea: false, drawTicks: true, tickLength: 11.2, color: '#000', lineWidth: 1.6 },
          border: { display: false },
        },
      },
    },
    plugins: [decorPlugin],
  };
}

function PanelChart({ p }: { p: Panel }) {
  const ref = useRef<HTMLCanvasElement>(null);
  const g = geom(p);
  useEffect(() => {
    if (!ref.current) return;
    const chart = new Chart(ref.current, buildConfig(p));
    return () => chart.destroy();
  }, []);
  return (
    <canvas
      ref={ref}
      width={g.cw}
      height={g.ch}
      style={{ position: 'absolute', left: g.col.cssL, top: g.row.cssT, width: g.cssW, height: g.ch }}
    />
  );
}

export default function App() {
  return (
    <div style={{ position: 'absolute', left: 0, top: 0, width: 1154, height: 583, background: '#fff', overflow: 'hidden' }}>
      {PANELS.map((p) => (
        <PanelChart key={p.name} p={p} />
      ))}
    </div>
  );
}
